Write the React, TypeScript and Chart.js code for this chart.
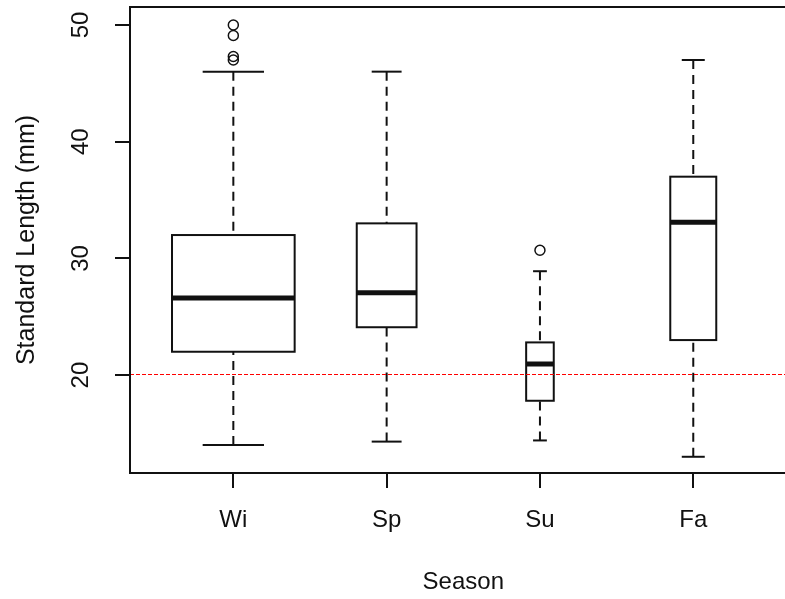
import React, { useEffect, useRef } from 'react';
import { Chart, registerables } from 'chart.js';

Chart.register(...registerables);

// ---- data ----
const SEASONS = ['Wi', 'Sp', 'Su', 'Fa'];
const LOWER_WHISKER = [14.0, 14.3, 14.4, 13.0];
const Q1 = [22.0, 24.1, 17.8, 23.0];
const MEDIAN = [26.6, 27.05, 20.95, 33.1];
const Q3 = [32.0, 33.0, 22.8, 37.0];
const UPPER_WHISKER = [46.0, 46.0, 28.9, 47.0];
const OUTLIER_SEASON = [0, 0, 0, 0, 2];
const OUTLIER_VALUE = [50.0, 49.1, 47.3, 47.0, 30.7];
const Y_TICKS = [20, 30, 40, 50];
const REFERENCE_VALUE = 20;

// ---- styling / layout ----
const BOX_WIDTHS = [0.8, 0.39, 0.18, 0.3]; // in x-axis units (varwidth)
const X_MIN = 0.326;
const X_MAX = 4.674;
const Y_MIN = 11.61;
const Y_MAX = 51.54;
const FONT = { family: "'Liberation Sans', Arial, sans-serif", size: 24, lineHeight: 1 };
const YTITLE_FONT = { family: "'Liberation Sans', Arial, sans-serif", size: 25, lineHeight: 1 };
const INK = '#111';

const boxPlugin = {
  id: 'rBoxes',
  beforeDatasetsDraw(chart: any) {
    const { ctx, scales } = chart;
    const x = scales.x;
    const y = scales.y;
    const line = (x1: number, y1: number, x2: number, y2: number) => {
      ctx.beginPath();
      ctx.moveTo(x1, y1);
      ctx.lineTo(x2, y2);
      ctx.stroke();
    };
    ctx.save();
    ctx.strokeStyle = INK;
    ctx.lineCap = 'butt';
    SEASONS.forEach((_, i) => {
      const cx = x.getPixelForValue(i + 1);
      const hw = x.getPixelForValue(i + 1 + BOX_WIDTHS[i] / 2) - cx;
      const yLo = y.getPixelForValue(LOWER_WHISKER[i]);
      const yQ1 = y.getPixelForValue(Q1[i]);
      const yMed = y.getPixelForValue(MEDIAN[i]);
      const yQ3 = y.getPixelForValue(Q3[i]);
      const yHi = y.getPixelForValue(UPPER_WHISKER[i]);
      // whiskers
      ctx.lineWidth = 2;
      ctx.setLineDash([9, 6]);
      line(cx, yLo, cx, yQ1);
      line(cx, yHi, cx, yQ3);
      ctx.setLineDash([]);
      // staples
      line(cx - hw / 2, yLo, cx + hw / 2, yLo);
      line(cx - hw / 2, yHi, cx + hw / 2, yHi);
      // box
      ctx.strokeRect(cx - hw, yQ3, 2 * hw, yQ1 - yQ3);
      // median
      ctx.lineWidth = 5;
      line(cx - hw, yMed, cx + hw, yMed);
    });
    ctx.restore();
  },
  afterDatasetsDraw(chart: any) {
    const { ctx, chartArea: a, scales } = chart;
    const y = scales.y;
    ctx.save();
    // reference line
    const yr = Math.round(y.getPixelForValue(REFERENCE_VALUE)) - 0.5;
    ctx.strokeStyle = '#ff0000';
    ctx.lineWidth = 1;
    ctx.setLineDash([4, 2]);
    ctx.beginPath();
    ctx.moveTo(a.left, yr);
    ctx.lineTo(a.right, yr);
    ctx.stroke();
    ctx.setLineDash([]);
    // frame
    ctx.strokeStyle = INK;
    ctx.lineWidth = 2;
    ctx.strokeRect(a.left, a.top, a.right - a.left, a.bottom - a.top);
    ctx.restore();
  },
};

export default function App() {
  const ref = useRef<HTMLCanvasElement>(null);
  useEffect(() => {
    if (!ref.current) return;
    const chart = new Chart(ref.current, {
      type: 'scatter',
      data: {
        datasets: [
          {
            label: 'outliers',
            data: OUTLIER_VALUE.map((v, k) => ({ x: OUTLIER_SEASON[k] + 1, y: v })),
            pointStyle: 'circle',
            pointRadius: 5,
            pointBorderWidth: 1.5,
            borderColor: INK,
            backgroundColor: 'rgba(0,0,0,0)',
            showLine: false,
          } as any,
        ],
      },
      options: {
        responsive: false,
        animation: false,
        devicePixelRatio: 1,
        layout: { padding: { left: 0, top: 7, right: 13.4, bottom: 0 } },
        plugins: { legend: { display: false }, tooltip: { enabled: false } },
        events: [],
        scales: {
          x: {
            type: 'linear',
            position: 'bottom',
            min: X_MIN,
            max: X_MAX,
            afterBuildTicks: (s: any) => {
              s.ticks = SEASONS.map((_, i) => ({ value: i + 1 }));
            },
            afterFit: (s: any) => {
              s.height = 126;
              s.paddingLeft = 0;
              s.paddingRight = 0;
            },
            ticks: {
              autoSkip: false,
              maxRotation: 0,
              minRotation: 0,
              padding: 20,
              color: INK,
              font: FONT,
              callback: (_v: any, i: number) => SEASONS[i],
            },
            grid: { drawOnChartArea: false, drawTicks: true, tickLength: 15, color: INK, lineWidth: 2 },
            border: { display: false },
            title: { display: true, text: 'Season', color: INK, font: FONT, padding: { top: 0, bottom: 5 } },
          },
          y: {
            type: 'linear',
            position: 'left',
            min: Y_MIN,
            max: Y_MAX,
            afterBuildTicks: (s: any) => {
              s.ticks = Y_TICKS.map((v) => ({ value: v }));
            },
            afterFit: (s: any) => {
              s.width = 130;
              s.paddingTop = 0;
              s.paddingBottom = 0;
            },
            ticks: {
              minRotation: 90,
              maxRotation: 90,
              crossAlign: 'center',
              padding: 20,
              color: INK,
              font: FONT,
              autoSkip: false,
            },
            grid: { drawOnChartArea: false, drawTicks: true, tickLength: 15, color: INK, lineWidth: 2 },
            border: { display: false },
            title: {
              display: true,
              text: 'Standard Length (mm)',
              color: INK,
              font: YTITLE_FONT,
              padding: { top: 14.5, bottom: 0 },
            },
          },
        },
      } as any,
      plugins: [boxPlugin],
    });
    return () => chart.destroy();
  }, []);

  return (
    <div
      style={{
        position: 'fixed',
        left: 0,
        top: 0,
        width: 785,
        height: 599,
        overflow: 'hidden',
        background: '#fff',
      }}
    >
      <canvas ref={ref} width={810} height={599} style={{ display: 'block' }} />
    </div>
  );
}
